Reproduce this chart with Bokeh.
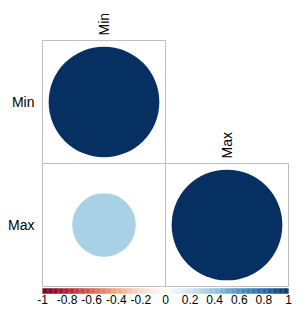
import numpy as np
from bokeh.plotting import figure
from bokeh.models import Range1d
from bokeh.core.properties import value
from bokeh.embed import file_html
from bokeh.resources import INLINE

# Data
names = ["Min", "Max"]
corr = [[1.0, 0.33],
        [0.33, 1.0]]
tick_values = [-1, -0.8, -0.6, -0.4, -0.2, 0, 0.2, 0.4, 0.6, 0.8, 1]
tick_labels = ["-1", "-0.8", "-0.6", "-0.4", "-0.2", "0", "0.2", "0.4", "0.6", "0.8", "1"]

# corrplot RdBu palette
base = ["#67001F", "#B2182B", "#D6604D", "#F4A582", "#FDDBC7", "#FFFFFF",
        "#D1E5F0", "#92C5DE", "#4393C3", "#2166AC", "#053061"]

def hex2rgb(h):
    return np.array([int(h[i:i + 2], 16) for i in (1, 3, 5)], dtype=float)

base_rgb = np.array([hex2rgb(h) for h in base])
N = 200
pos = np.linspace(0, 1, len(base))
t = np.linspace(0, 1, N)
pal_rgb = np.stack([np.interp(t, pos, base_rgb[:, k]) for k in range(3)], axis=1)
palette = ["#%02x%02x%02x" % tuple(int(round(c)) for c in row) for row in pal_rgb]

def color_for(v):
    idx = int(round((v + 1) / 2 * (N - 1)))
    return palette[idx]

CELL = 123.0
W, H = 304, 315
x0px, ybot = 42.0, 29.0
p = figure(width=W, height=H, output_backend="svg", toolbar_location=None,
           x_range=Range1d(-x0px / CELL, (W - x0px) / CELL),
           y_range=Range1d(-ybot / CELL, (H - ybot) / CELL),
           min_border=0, outline_line_color=None)
p.axis.visible = False
p.grid.visible = False
p.background_fill_color = "white"

n = len(names)
cx, cy, rad, col = [], [], [], []
for i in range(n):          # row
    for j in range(i + 1):  # col (lower triangle)
        v = corr[i][j]
        cx.append(j + 0.5)
        cy.append(n - i - 0.5)
        rad.append(0.45 * np.sqrt(abs(v)))
        col.append(color_for(v))

# cell borders
p.rect(x=cx, y=cy, width=1, height=1, fill_color=None, line_color="#BEBEBE", line_width=1)
p.circle(x=cx, y=cy, radius=rad, fill_color=col, line_color=None)

font = value("Liberation Sans")
# row labels
p.text(x=[-0.065] * n, y=[n - i - 0.5 for i in range(n)], text=names,
       text_align="right", text_baseline="middle", text_font=font,
       text_font_size="14px", text_color="black")
# column labels on diagonal
p.text(x=[j + 0.5 for j in range(n)], y=[n - j + 5 / CELL for j in range(n)], text=names,
       angle=np.pi / 2, text_align="left", text_baseline="middle", text_font=font,
       text_font_size="14px", text_color="black")

# color bar
vals = np.linspace(-1, 1, N + 1)
left = (vals[:-1] + 1)
right = (vals[1:] + 1)
p.quad(left=left, right=right, bottom=-7 / CELL, top=-2 / CELL,
       fill_color=palette, line_color=palette, line_width=0.3)
p.text(x=[v + 1 for v in tick_values], y=[-12.5 / CELL] * len(tick_values), text=tick_labels,
       text_align="center", text_baseline="middle", text_font=font,
       text_font_size="12px", text_color="black")

open("out.html", "w").write(file_html(p, INLINE))
